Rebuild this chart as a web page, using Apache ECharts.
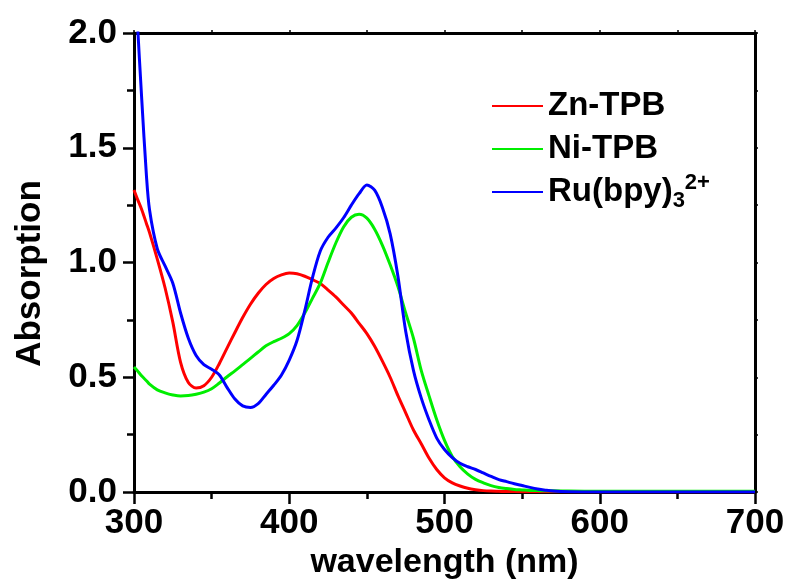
<!DOCTYPE html>
<html>
<head>
<meta charset="utf-8">
<script src="https://cdn.jsdelivr.net/npm/echarts@6/dist/echarts.min.js"></script>
<style>html,body{margin:0;padding:0;background:#fff}#c{width:790px;height:588px}</style>
</head>
<body>
<div id="c"></div>
<script>
const wavelengths = [300,302,305,308,310,315,320,325,330,335,340,345,350,355,360,365,370,375,380,385,390,395,400,405,410,415,420,425,430,435,440,445,450,455,460,465,470,475,480,485,490,495,500,505,510,515,520,525,530,535,540,545,550,555,560,565,570,580,600,650,700];
const znTPB = [1.316,1.28,1.23,1.17,1.13,1.015,0.89,0.74,0.565,0.477,0.453,0.463,0.50,0.56,0.628,0.695,0.76,0.818,0.866,0.904,0.93,0.946,0.954,0.951,0.94,0.925,0.908,0.88,0.85,0.815,0.78,0.735,0.69,0.635,0.57,0.50,0.42,0.345,0.27,0.21,0.148,0.098,0.062,0.04,0.026,0.016,0.01,0.006,0.004,0.003,0.002,0.002,0.001,0.001,0.001,0.001,0.001,0.001,0.001,0.001,0.001];
const niTPB = [0.545,0.53,0.505,0.485,0.47,0.445,0.432,0.423,0.418,0.42,0.426,0.435,0.45,0.475,0.502,0.528,0.555,0.582,0.61,0.637,0.655,0.67,0.69,0.725,0.78,0.845,0.91,1.00,1.085,1.155,1.197,1.21,1.193,1.145,1.075,0.99,0.895,0.78,0.67,0.53,0.42,0.315,0.225,0.155,0.11,0.078,0.055,0.04,0.028,0.02,0.015,0.011,0.009,0.007,0.006,0.005,0.005,0.004,0.003,0.003,0.003];
const ruBpy = [2.35,2.07,1.71,1.38,1.23,1.06,0.985,0.91,0.78,0.67,0.595,0.555,0.535,0.51,0.455,0.405,0.375,0.368,0.385,0.425,0.465,0.51,0.575,0.66,0.79,0.935,1.05,1.11,1.15,1.195,1.25,1.30,1.338,1.315,1.24,1.125,0.94,0.70,0.53,0.41,0.315,0.235,0.185,0.15,0.125,0.11,0.098,0.083,0.068,0.054,0.045,0.036,0.028,0.02,0.013,0.008,0.004,0.001,0,0,0];
const seriesNames = ['Zn-TPB','Ni-TPB','Ru(bpy)3 2+'];
const seriesColors = ['#ff0000','#00ee00','#0000ff'];
const xTicks = [300,400,500,600,700];
const yTicks = [0,0.5,1.0,1.5,2.0];

const FONT = "'Liberation Sans', Arial, sans-serif";
const chart = echarts.init(document.getElementById('c'), null, {renderer:'canvas'});
const pair = arr => wavelengths.map((w,i)=>[w,arr[i]]);
const allData = [znTPB, niTPB, ruBpy];

chart.setOption({
  animation:false,
  backgroundColor:'#fff',
  grid:{left:134,right:35,top:33,bottom:96,containLabel:false},
  legend:{
    orient:'vertical', left:492, top:86, padding:0, itemGap:3,
    itemWidth:51, itemHeight:14, icon:'path://M0,6H51V8H0Z',
    data:seriesNames,
    formatter: n => n === 'Ru(bpy)3 2+' ? 'Ru(bpy){sub|3}{sup|2+}' : n,
    textStyle:{fontFamily:FONT,fontWeight:'bold',fontSize:33,color:'#000',lineHeight:40,
      rich:{
        sub:{fontFamily:FONT,fontWeight:'bold',fontSize:22,lineHeight:21,verticalAlign:'bottom',color:'#000'},
        sup:{fontFamily:FONT,fontWeight:'bold',fontSize:22,lineHeight:22,verticalAlign:'top',color:'#000'}
      }}
  },
  xAxis:[{
    type:'value', min:xTicks[0], max:xTicks[xTicks.length-1], interval:100,
    name:'wavelength (nm)', nameLocation:'middle', nameGap:53,
    nameTextStyle:{fontFamily:FONT,fontWeight:'bold',fontSize:34,color:'#000'},
    axisLine:{onZero:false,lineStyle:{color:'#000',width:3}},
    axisTick:{inside:false,length:12,lineStyle:{color:'#000',width:2.5}},
    minorTick:{show:true,splitNumber:2,length:7,lineStyle:{color:'#000',width:2.5}},
    splitLine:{show:false},
    axisLabel:{margin:14,fontFamily:FONT,fontWeight:'bold',fontSize:35,color:'#000'}
  },{
    type:'value', position:'top', min:300, max:700, interval:50,
    axisLine:{show:true,onZero:false,lineStyle:{color:'#000',width:3}},
    axisTick:{show:true,length:3,lineStyle:{color:'#000',width:1.5}},
    axisLabel:{show:false}, splitLine:{show:false}
  }],
  yAxis:[{
    type:'value', min:yTicks[0], max:yTicks[yTicks.length-1], interval:0.5,
    name:'Absorption', nameLocation:'middle', nameGap:86, nameRotate:90,
    nameTextStyle:{fontFamily:FONT,fontWeight:'bold',fontSize:35,color:'#000',padding:[0,22,0,0]},
    axisLine:{show:true,onZero:false,lineStyle:{color:'#000',width:3}},
    axisTick:{show:true,inside:false,length:11,lineStyle:{color:'#000',width:2.5}},
    minorTick:{show:true,splitNumber:2,length:7,lineStyle:{color:'#000',width:2.5}},
    splitLine:{show:false},
    axisLabel:{margin:17,fontFamily:FONT,fontWeight:'bold',fontSize:35,color:'#000',formatter:v=>v.toFixed(1)}
  },{
    type:'value', position:'right', min:0, max:2, interval:0.25,
    axisLine:{show:true,onZero:false,lineStyle:{color:'#000',width:3}},
    axisTick:{show:true,length:3,lineStyle:{color:'#000',width:1.5}},
    axisLabel:{show:false}, splitLine:{show:false}
  }],
  series: seriesNames.map((n,i)=>({
    name:n, type:'line', data:pair(allData[i]), smooth:0.3, symbol:'none', clip:true,
    color:seriesColors[i],
    lineStyle:{color:seriesColors[i],width:3}
  }))
});
</script>
</body>
</html>
